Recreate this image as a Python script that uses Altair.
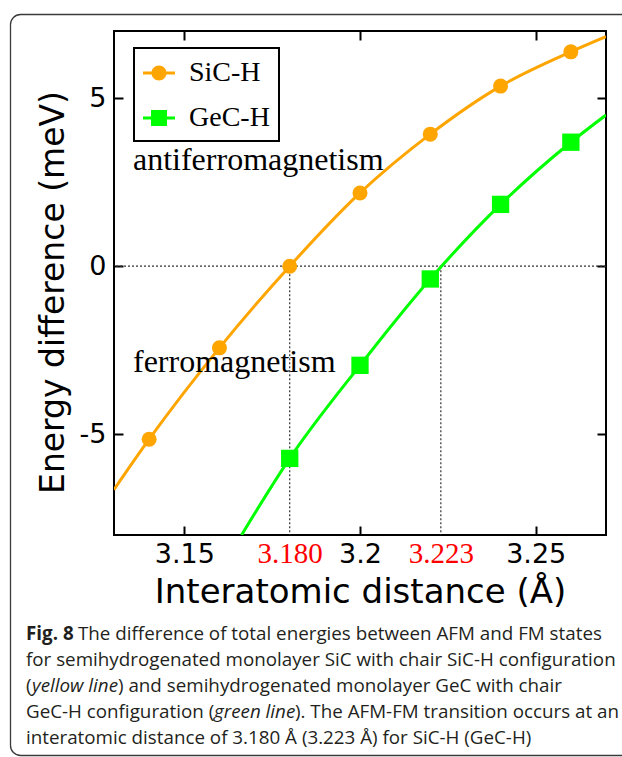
import altair as alt
import pandas as pd

# ---------------- data ----------------
series_names = ["SiC-H", "GeC-H"]

sic_x = [3.14, 3.16, 3.18, 3.20, 3.22, 3.24, 3.26]
sic_y = [-5.15, -2.43, 0.0, 2.18, 3.93, 5.36, 6.38]
# where the SiC-H curve meets the frame
sic_edge_x = [3.13, 3.27]
sic_edge_y = [-6.65, 6.83]

gec_x = [3.18, 3.20, 3.22, 3.24, 3.26]
gec_y = [-5.72, -2.95, -0.38, 1.84, 3.69]
# where the GeC-H curve meets the frame
gec_edge_x = [3.1663, 3.27]
gec_edge_y = [-8.0, 4.50]

transition_x = [3.180, 3.223]
zero_line = [0.0]

x_domain = [3.13, 3.27]
y_domain = [-8, 7]

x_tick_values = [3.15, 3.18, 3.2, 3.223, 3.25]
x_tick_labels = ["3.15", "3.180", "3.2", "3.223", "3.25"]
red_tick_values = [3.18, 3.223]
y_tick_values = [-5, 0, 5]
y_tick_labels = ["-5", "0", "5"]

annotation_text = ["antiferromagnetism", "ferromagnetism"]
annotation_x = [3.1354, 3.1354]
annotation_y = [2.86, -3.15]

caption_lines = [
    [("Fig. 8", "bold"), (" The difference of total energies between AFM and FM states", "normal")],
    [("for semihydrogenated monolayer SiC with chair SiC-H configuration", "normal")],
    [("(", "normal"), ("yellow line", "italic"), (") and semihydrogenated monolayer GeC with chair", "normal")],
    [("GeC-H configuration (", "normal"), ("green line", "italic"), ("). The AFM-FM transition occurs at an", "normal")],
    [("interatomic distance of 3.180 \u00c5 (3.223 \u00c5) for SiC-H (GeC-H)", "normal")],
]

# ---------------- layout / style ----------------
W, H = 492, 504
PAD_L, PAD_T = 114, 31
PAD_R = 622 - PAD_L - W
PAD_B = 757 - PAD_T - H

ORANGE = "#FFA500"
GREEN = "#00FF00"
DOT = "#333333"
CAP_COLOR = "#231f20"
CAP_FONT = "Open Sans"
CAP_SIZE = 18.8

xs = alt.Scale(domain=x_domain, nice=False, zero=False)
ys = alt.Scale(domain=y_domain, nice=False, zero=False)

red_test = "indexof([" + ",".join(str(v) for v in red_tick_values) + "], datum.value) >= 0"
x_label_expr = " : ".join(
    f"datum.value == {v} ? '{l}'" for v, l in zip(x_tick_values, x_tick_labels)
) + " : datum.label"
y_label_expr = " : ".join(
    f"datum.value == {v} ? '{l}'" for v, l in zip(y_tick_values, y_tick_labels)
) + " : datum.label"

tick_common = dict(offset=-9, tickSize=9, tickWidth=2, tickColor="black", domain=False, grid=False)

x_axis_main = alt.Axis(
    orient="bottom", values=x_tick_values, labelExpr=x_label_expr,
    labelColor={"condition": {"test": red_test, "value": "#ff0000"}, "value": "black"},
    labelFont={"condition": {"test": red_test, "value": "Liberation Serif"}, "value": "DejaVu Sans"},
    labelFontSize={"condition": {"test": red_test, "value": 29}, "value": 27},
    tickOpacity={"condition": {"test": red_test, "value": 0}, "value": 1},
    labelBaseline="alphabetic", labelPadding=27, labelFlush=False, labelOverlap=False,
    title="Interatomic distance (\u00c5)", titleFont="DejaVu Sans", titleFontSize=34,
    titleFontWeight="normal", titleColor="black", titleBaseline="alphabetic", titleY=76,
    **tick_common,
)
y_axis_main = alt.Axis(
    orient="left", values=y_tick_values, labelExpr=y_label_expr,
    labelFont="DejaVu Sans", labelFontSize=27, labelColor="black", labelPadding=8,
    labelFlush=False, labelOverlap=False,
    title="Energy difference (meV)", titleFont="DejaVu Sans", titleFontSize=33,
    titleFontWeight="normal", titleColor="black", titleAngle=270, titleBaseline="alphabetic",
    titleAlign="center", titleX=-60, titleY=261,
    **tick_common,
)
x_axis_top = alt.Axis(orient="top", values=[v for v in x_tick_values if v not in red_tick_values],
                      labels=False, title=None, **tick_common)
y_axis_right = alt.Axis(orient="right", values=y_tick_values, labels=False, title=None, **tick_common)

# ---------------- tables ----------------
sic_pts = pd.DataFrame({"x": sic_x, "y": sic_y, "series": series_names[0]})
gec_pts = pd.DataFrame({"x": gec_x, "y": gec_y, "series": series_names[1]})
sic_curve = pd.DataFrame({"x": [sic_edge_x[0]] + sic_x + [sic_edge_x[1]],
                          "y": [sic_edge_y[0]] + sic_y + [sic_edge_y[1]]})
gec_curve = pd.DataFrame({"x": [gec_edge_x[0]] + gec_x + [gec_edge_x[1]],
                          "y": [gec_edge_y[0]] + gec_y + [gec_edge_y[1]]})
all_pts = pd.concat([sic_pts, gec_pts], ignore_index=True)
hline_df = pd.DataFrame({"y": zero_line})
vline_df = pd.DataFrame({"x": transition_x, "y": [zero_line[0]] * len(transition_x),
                         "y2": [y_domain[0]] * len(transition_x)})
ann_df = pd.DataFrame({"x": annotation_x, "y": annotation_y, "text": annotation_text})
one = pd.DataFrame({"k": [0]})

# ---------------- layers ----------------
border = alt.Chart(one).mark_rect(
    fill=None, stroke="#3a3a3a", strokeWidth=1.3, cornerRadius=10
).encode(x=alt.value(10.5 - PAD_L), x2=alt.value(660 - PAD_L),
         y=alt.value(14.5 - PAD_T), y2=alt.value(755.5 - PAD_T))

hline = alt.Chart(hline_df).mark_rule(color=DOT, strokeWidth=1.2, strokeDash=[2, 2]).encode(
    y=alt.Y("y:Q", scale=ys, axis=None))

vlines = alt.Chart(vline_df).mark_rule(color=DOT, strokeWidth=1.2, strokeDash=[2, 2]).encode(
    x=alt.X("x:Q", scale=xs, axis=None), y=alt.Y("y:Q", scale=ys, axis=None), y2="y2:Q")

sic_line = alt.Chart(sic_curve).mark_line(color=ORANGE, strokeWidth=3, interpolate="monotone", clip=True).encode(
    x=alt.X("x:Q", scale=xs, axis=x_axis_main), y=alt.Y("y:Q", scale=ys, axis=y_axis_main))

gec_line = alt.Chart(gec_curve).mark_line(color=GREEN, strokeWidth=3, interpolate="monotone", clip=True).encode(
    x=alt.X("x:Q", scale=xs, axis=None), y=alt.Y("y:Q", scale=ys, axis=None))

sic_points = alt.Chart(sic_pts).mark_circle(color=ORANGE, size=225, opacity=1).encode(
    x=alt.X("x:Q", scale=xs, axis=x_axis_top), y=alt.Y("y:Q", scale=ys, axis=y_axis_right))

gec_points = alt.Chart(gec_pts).mark_square(color=GREEN, size=300, opacity=1).encode(
    x=alt.X("x:Q", scale=xs, axis=None), y=alt.Y("y:Q", scale=ys, axis=None))

annotations = alt.Chart(ann_df).mark_text(
    font="Liberation Serif", fontSize=32, align="left", baseline="alphabetic", color="black"
).encode(x=alt.X("x:Q", scale=xs, axis=None), y=alt.Y("y:Q", scale=ys, axis=None), text="text:N")

CIRCLE_PATH = ("M-1,-0.09H-0.45V0.09H-1Z M0.45,-0.09H1V0.09H0.45Z "
               "M0.47,0A0.47,0.47 0 1 1 -0.47,0A0.47,0.47 0 1 1 0.47,0Z")
SQUARE_PATH = ("M-1,-0.09H-0.5V0.09H-1Z M0.5,-0.09H1V0.09H0.5Z "
               "M-0.5,-0.5H0.5V0.5H-0.5Z")

legend_props = dict(
    title=None, orient="none", legendX=20, legendY=17, padding=9, rowPadding=15,
    labelOffset=14, labelFont="Liberation Serif", labelFontSize=28, labelColor="black",
    labelLimit=300, symbolSize=1024, symbolOpacity=1, symbolStrokeWidth=0,
    strokeColor="black", fillColor="white",
)
legend_layer = alt.Chart(all_pts).mark_point(filled=True, opacity=0, size=1024).encode(
    x=alt.X("x:Q", scale=xs, axis=None), y=alt.Y("y:Q", scale=ys, axis=None),
    color=alt.Color("series:N", scale=alt.Scale(domain=series_names, range=[ORANGE, GREEN]),
                    legend=alt.Legend(**legend_props)),
    shape=alt.Shape("series:N", scale=alt.Scale(domain=series_names, range=[CIRCLE_PATH, SQUARE_PATH]),
                    legend=alt.Legend(**legend_props)),
)

# caption pieces (absolute page positions -> plot-relative)
cap_line_base = [640, 666, 692, 718, 744]
cap_piece_x = [
    [26, 78],
    [26],
    [26, 32, 118],
    [26, 214, 295],
    [26],
]

caption_layers = []
for li, pieces in enumerate(caption_lines):
    for pi, (txt, style) in enumerate(pieces):
        kw = dict(text=txt, font=CAP_FONT, fontSize=CAP_SIZE, align="left",
                  baseline="alphabetic", color=CAP_COLOR)
        if style == "bold":
            kw["fontWeight"] = "bold"
        if style == "italic":
            kw["fontStyle"] = "italic"
        caption_layers.append(
            alt.Chart(one).mark_text(**kw).encode(
                x=alt.value(cap_piece_x[li][pi] - PAD_L),
                y=alt.value(cap_line_base[li] - PAD_T))
        )

chart = alt.layer(
    border, hline, vlines, sic_line, gec_line, sic_points, gec_points,
    annotations, legend_layer, *caption_layers
).properties(
    width=W, height=H,
    padding={"left": PAD_L, "top": PAD_T, "right": PAD_R, "bottom": PAD_B},
    autosize=alt.AutoSizeParams(type="none"),
    background="white",
).configure_view(stroke="black", strokeWidth=2).configure_legend(strokeWidth=2)

chart.save("out.html", embed_options={"renderer": "svg", "actions": False})
